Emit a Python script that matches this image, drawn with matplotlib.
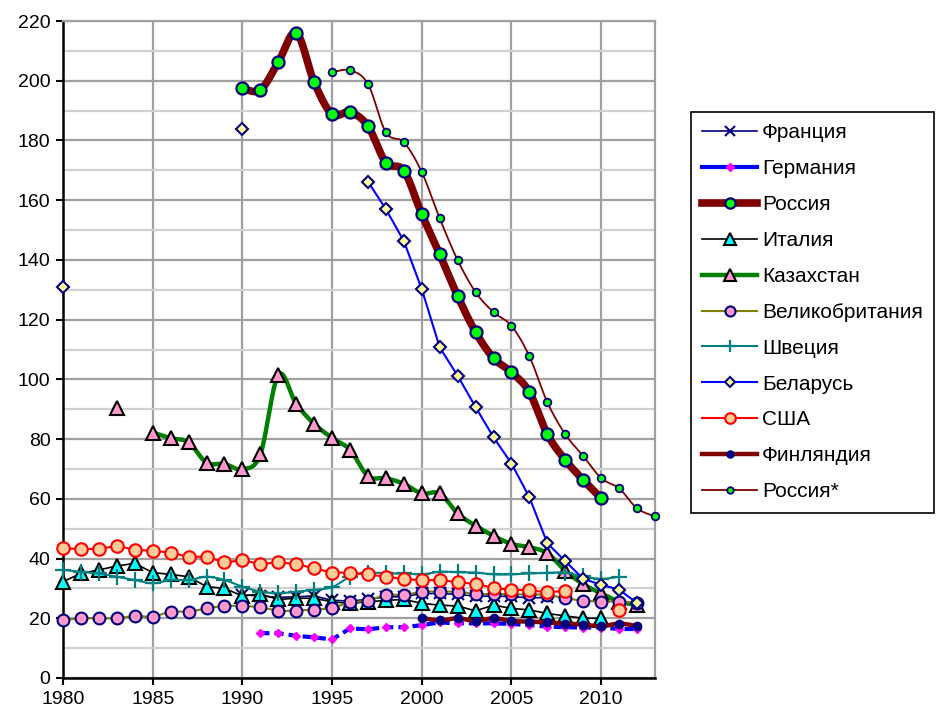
import numpy as np
import matplotlib
matplotlib.use("Agg")
import matplotlib.pyplot as plt
from matplotlib.lines import Line2D

plt.rcParams['font.family'] = ['Liberation Sans', 'DejaVu Sans']

years = list(range(1980, 2014))

france = {1990: 27.8, 1991: 27.5, 1992: 27.0, 1993: 27.2, 1994: 27.5, 1995: 26.0,
          1996: 25.8, 1997: 26.3, 1998: 27.2, 1999: 27.2, 2000: 28.3, 2001: 28.3,
          2002: 28.0, 2003: 27.4, 2004: 27.4, 2005: 27.3, 2006: 26.8, 2007: 27.0}
germany = {1991: 15.0, 1992: 15.0, 1993: 14.1, 1994: 13.6, 1995: 12.9, 1996: 16.6,
           1997: 16.3, 1998: 17.0, 1999: 17.0, 2000: 17.7, 2001: 18.6, 2002: 18.3,
           2003: 18.3, 2004: 18.3, 2005: 18.1, 2006: 17.7, 2007: 17.2, 2008: 17.0,
           2009: 16.9, 2010: 16.9, 2011: 16.4, 2012: 16.4}
russia = {1990: 197.5, 1991: 196.9, 1992: 206.2, 1993: 216.1, 1994: 199.5, 1995: 188.8,
          1996: 189.5, 1997: 184.8, 1998: 172.6, 1999: 169.9, 2000: 155.3, 2001: 141.9,
          2002: 127.9, 2003: 115.8, 2004: 107.1, 2005: 102.4, 2006: 95.7, 2007: 81.6,
          2008: 73.0, 2009: 66.3, 2010: 60.2}
italy = {1980: 32.3, 1981: 35.0, 1982: 36.2, 1983: 37.5, 1984: 38.4, 1985: 35.3,
         1986: 34.7, 1987: 33.9, 1988: 30.6, 1989: 30.0, 1990: 27.5, 1991: 28.1,
         1992: 26.3, 1993: 26.7, 1994: 26.7, 1995: 25.5, 1996: 25.0, 1997: 25.5,
         1998: 26.0, 1999: 26.3, 2000: 25.0, 2001: 24.4, 2002: 24.1, 2003: 22.5,
         2004: 24.4, 2005: 23.3, 2006: 22.8, 2007: 21.6, 2008: 20.8, 2009: 20.0, 2010: 20.0}
kazakhstan = {1983: 90.3, 1985: 82.2, 1986: 80.3, 1987: 78.9, 1988: 72.1, 1989: 71.7,
              1990: 69.9, 1991: 74.9, 1992: 101.5, 1993: 91.8, 1994: 85.1, 1995: 80.4,
              1996: 76.4, 1997: 67.6, 1998: 66.9, 1999: 65.0, 2000: 61.8, 2001: 61.8,
              2002: 55.1, 2003: 51.0, 2004: 47.6, 2005: 44.9, 2006: 43.8, 2007: 41.8,
              2008: 35.9, 2009: 31.4, 2010: 28.4, 2011: 25.6, 2012: 24.5}
uk = {1980: 19.4, 1981: 20.0, 1982: 20.0, 1983: 20.0, 1984: 20.8, 1985: 20.5,
      1986: 22.2, 1987: 22.2, 1988: 23.3, 1989: 24.1, 1990: 24.1, 1991: 23.7,
      1992: 22.5, 1993: 22.6, 1994: 22.9, 1995: 23.5, 1996: 25.3, 1997: 25.9,
      1998: 27.8, 1999: 27.8, 2000: 28.9, 2001: 28.9, 2002: 28.9, 2003: 28.1,
      2004: 28.2, 2005: 28.0, 2006: 28.0, 2007: 27.8, 2008: 26.7, 2009: 25.9,
      2010: 25.6, 2011: 25.6, 2012: 25.2}
sweden = {1980: 36.2, 1981: 35.6, 1982: 35.0, 1983: 33.9, 1984: 32.8, 1985: 31.7,
          1986: 32.8, 1987: 32.8, 1988: 33.9, 1989: 32.8, 1990: 30.6, 1991: 28.9,
          1992: 28.4, 1993: 28.9, 1994: 29.5, 1995: 30.4, 1996: 33.9, 1997: 35.3,
          1998: 35.0, 1999: 35.0, 2000: 34.7, 2001: 35.6, 2002: 35.4, 2003: 35.3,
          2004: 34.7, 2005: 34.7, 2006: 35.0, 2007: 35.2, 2008: 35.3, 2009: 34.0,
          2010: 33.2, 2011: 33.9}
belarus = {1980: 130.9, 1990: 183.8, 1997: 166.2, 1998: 157.0, 1999: 146.3, 2000: 130.2,
           2001: 110.7, 2002: 101.2, 2003: 90.7, 2004: 80.6, 2005: 71.8, 2006: 60.5,
           2007: 45.1, 2008: 39.1, 2009: 33.2, 2010: 31.2, 2011: 29.6, 2012: 25.1}
usa = {1980: 43.4, 1981: 43.2, 1982: 43.2, 1983: 44.3, 1984: 42.9, 1985: 42.6,
       1986: 42.0, 1987: 40.6, 1988: 40.6, 1989: 38.7, 1990: 39.4, 1991: 38.2,
       1992: 38.7, 1993: 38.2, 1994: 36.7, 1995: 35.3, 1996: 35.3, 1997: 34.7,
       1998: 33.9, 1999: 33.2, 2000: 32.7, 2001: 32.8, 2002: 32.1, 2003: 31.5,
       2004: 30.2, 2005: 29.5, 2006: 29.4, 2007: 28.7, 2008: 29.2, 2011: 22.8}
finland = {2000: 20.1, 2001: 19.3, 2002: 20.0, 2003: 19.1, 2004: 20.0, 2005: 19.1,
           2006: 18.9, 2007: 18.6, 2008: 18.2, 2009: 17.9, 2010: 17.3, 2011: 18.2, 2012: 17.4}
russia_star = {1995: 202.8, 1996: 203.5, 1997: 198.9, 1998: 182.7, 1999: 179.4,
               2000: 169.4, 2001: 153.9, 2002: 139.9, 2003: 129.2, 2004: 122.5,
               2005: 117.9, 2006: 107.7, 2007: 92.3, 2008: 81.6, 2009: 74.3,
               2010: 66.9, 2011: 63.5, 2012: 56.8, 2013: 54.1}

labels = ['Франция', 'Германия', 'Россия', 'Италия', 'Казахстан', 'Великобритания',
          'Швеция', 'Беларусь', 'США', 'Финляндия', 'Россия*']
series = [france, germany, russia, italy, kazakhstan, uk, sweden, belarus, usa, finland, russia_star]

styles = [
    dict(color='#000080', lw=1.2, ls='-', smooth=False, marker='x', ms=9, mfc='#000080', mec='#000080', mew=1.5),
    dict(color='#0000FF', lw=3.0, ls=(0, (2.2, 1.2)), smooth=False, marker='D', ms=4.5, mfc='#FF00FF', mec='#FF00FF', mew=1),
    dict(color='#800000', lw=5.5, ls='-', smooth=True, marker='o', ms=8.7, mfc='#00FF00', mec='#000080', mew=1.6),
    dict(color='#000000', lw=1.2, ls='-', smooth=False, marker='^', ms=10, mfc='#00FFFF', mec='#000000', mew=1.5),
    dict(color='#008000', lw=3.2, ls='-', smooth=True, marker='^', ms=10, mfc='#FF99CC', mec='#000000', mew=1.5),
    dict(color='#808000', lw=1.5, ls='-', smooth=True, marker='o', ms=8.5, mfc='#FF99CC', mec='#000080', mew=1.5),
    dict(color='#008080', lw=1.5, ls='-', smooth=True, marker='+', ms=11, mfc='#008080', mec='#008080', mew=1.6),
    dict(color='#0000FF', lw=1.5, ls='-', smooth=False, marker='D', ms=6.5, mfc='#FFFF99', mec='#000080', mew=1.5),
    dict(color='#FF0000', lw=1.5, ls='-', smooth=False, marker='o', ms=9, mfc='#FFCC99', mec='#FF0000', mew=1.5),
    dict(color='#800000', lw=3.2, ls='-', smooth=True, marker='o', ms=6, mfc='#000080', mec='#000080', mew=1),
    dict(color='#800000', lw=1.3, ls='-', smooth=True, marker='o', ms=5.5, mfc='#00FF00', mec='#000080', mew=1.3),
]


def catmull(xs, ys, n=20):
    P = np.column_stack([xs, ys]).astype(float)
    if len(P) < 3:
        return P[:, 0], P[:, 1]
    Pp = np.vstack([P[0], P, P[-1]])
    out = []
    t = np.linspace(0, 1, n, endpoint=False)[:, None]
    for i in range(1, len(Pp) - 2):
        p0, p1, p2, p3 = Pp[i - 1], Pp[i], Pp[i + 1], Pp[i + 2]
        seg = 0.5 * (2 * p1 + (-p0 + p2) * t + (2 * p0 - 5 * p1 + 4 * p2 - p3) * t ** 2
                     + (-p0 + 3 * p1 - 3 * p2 + p3) * t ** 3)
        out.append(seg)
    out.append(P[-1][None, :])
    out = np.vstack(out)
    return out[:, 0], out[:, 1]


def runs(d):
    ks = sorted(d)
    groups, cur = [], [ks[0]]
    for k in ks[1:]:
        if k == cur[-1] + 1:
            cur.append(k)
        else:
            groups.append(cur)
            cur = [k]
    groups.append(cur)
    return groups


fig = plt.figure(figsize=(9.38, 7.16), dpi=100)
ax = fig.add_axes([63 / 938, 1 - 678 / 716, (655 - 63) / 938, (678 - 21) / 716])

ax.set_xlim(1980, 2013)
ax.set_ylim(0, 220)
ax.set_xticks(range(1980, 2011, 5))
ax.set_yticks(range(0, 221, 20))
ax.set_yticks(range(10, 220, 20), minor=True)
ax.grid(which='major', axis='y', color='#a0a0a0', lw=1.6, zorder=0)
ax.grid(which='minor', axis='y', color='#d0d0d0', lw=1.6, zorder=0)
ax.grid(which='major', axis='x', color='#a0a0a0', lw=1.6, zorder=0)
ax.tick_params(which='minor', length=0)
ax.tick_params(which='major', length=5, width=1.5, direction='out', labelsize=14, pad=4)
for s in ['top', 'right']:
    ax.spines[s].set_color('#a0a0a0')
    ax.spines[s].set_linewidth(1.6)
for s in ['left', 'bottom']:
    ax.spines[s].set_color('black')
    ax.spines[s].set_linewidth(1.8)
ax.set_axisbelow(True)

handles = []
for i, (d, st) in enumerate(zip(series, styles)):
    z = 3 + i * 0.1
    for g in runs(d):
        if len(g) >= 2:
            ys = [d[k] for k in g]
            if st['smooth']:
                sx, sy = catmull(g, ys)
            else:
                sx, sy = g, ys
            ax.plot(sx, sy, color=st['color'], lw=st['lw'], ls=st['ls'],
                    solid_capstyle='round', solid_joinstyle='round', zorder=z)
    xs = sorted(d)
    ax.plot(xs, [d[k] for k in xs], ls='none', marker=st['marker'], ms=st['ms'],
            mfc=st['mfc'], mec=st['mec'], mew=st['mew'], zorder=z + 0.05, clip_on=False)
    handles.append(Line2D([], [], color=st['color'], lw=st['lw'],
                          ls='-', marker=st['marker'], ms=st['ms'] * 0.85,
                          mfc=st['mfc'], mec=st['mec'], mew=st['mew']))

leg = fig.legend(handles, labels, loc='upper left', bbox_to_anchor=(691 / 938, 1 - 112 / 716),
                 fontsize=15, frameon=True, fancybox=False, framealpha=1,
                 edgecolor='black', handlelength=2.6, handletextpad=0.25,
                 labelspacing=0.81, borderpad=0.55, borderaxespad=0)
leg.get_frame().set_linewidth(1.2)

fig.savefig('out.png', dpi=100)
